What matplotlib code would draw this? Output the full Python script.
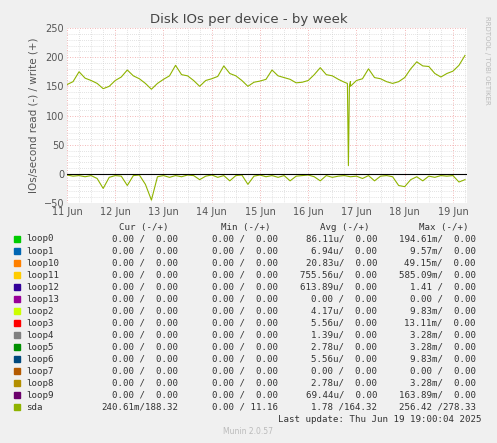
import numpy as np
import matplotlib.pyplot as plt
from matplotlib.ticker import MultipleLocator

# write IOs (+), sampled every 3 hours from 11 Jun 00:00
write_vals = [153, 158, 175, 164, 160, 155, 146, 150,
              160, 166, 178, 168, 163, 155, 145, 155,
              162, 168, 186, 170, 168, 160, 150, 160,
              163, 167, 185, 172, 168, 160, 150, 157,
              159, 162, 178, 168, 165, 162, 156, 157,
              160, 170, 182, 170, 168, 162, 157, 150,
              160, 163, 180, 165, 163, 158, 155, 158,
              165, 180, 192, 185, 184, 172, 166, 172,
              176, 186, 203]
# read IOs (-)
read_vals = [-2, -4, -3, -5, -3, -8, -25, -6,
             -3, -4, -20, -3, -2, -18, -45, -5,
             -3, -6, -3, -5, -2, -3, -10, -4,
             -2, -6, -3, -12, -3, -2, -18, -4,
             -2, -5, -3, -6, -3, -12, -4, -3,
             -2, -5, -12, -3, -6, -4, -3, -5,
             -4, -8, -3, -12, -4, -3, -5, -20,
             -22, -10, -5, -12, -4, -6, -3, -4,
             -3, -14, -10]
hours = np.arange(len(write_vals)) * 3.0
# short dip on 16 Jun evening
dip_hours = [5*24 + 19.5, 5*24 + 20, 5*24 + 20.5, 5*24 + 21]
dip_vals = [155, 14, 150, 158]
hours_w = np.concatenate([hours, dip_hours])
vals_w = np.concatenate([write_vals, dip_vals])
order = np.argsort(hours_w)
hours_w, vals_w = hours_w[order], vals_w[order]

day_labels = ['11 Jun', '12 Jun', '13 Jun', '14 Jun', '15 Jun',
              '16 Jun', '17 Jun', '18 Jun', '19 Jun']

names = ['loop0', 'loop1', 'loop10', 'loop11', 'loop12', 'loop13', 'loop2',
         'loop3', 'loop4', 'loop5', 'loop6', 'loop7', 'loop8', 'loop9', 'sda']
colors = ['#00CC00', '#0066B3', '#FF8000', '#FFCC00', '#330099', '#990099',
          '#CCFF00', '#FF0000', '#808080', '#008F00', '#00487D', '#B35A00',
          '#B38F00', '#6B006B', '#8FB300']
cur = ['0.00 /  0.00'] * 14 + ['240.61m/188.32']
mins = ['0.00 /  0.00'] * 14 + ['0.00 / 11.16']
avgs = ['86.11u/  0.00', '6.94u/  0.00', '20.83u/  0.00', '755.56u/  0.00',
        '613.89u/  0.00', '0.00 /  0.00', '4.17u/  0.00', '5.56u/  0.00',
        '1.39u/  0.00', '2.78u/  0.00', '5.56u/  0.00', '0.00 /  0.00',
        '2.78u/  0.00', '69.44u/  0.00', '1.78 /164.32']
maxs = ['194.61m/  0.00', '9.57m/  0.00', '49.15m/  0.00', '585.09m/  0.00',
        '1.41 /  0.00', '0.00 /  0.00', '9.83m/  0.00', '13.11m/  0.00',
        '3.28m/  0.00', '3.28m/  0.00', '9.83m/  0.00', '0.00 /  0.00',
        '3.28m/  0.00', '163.89m/  0.00', '256.42 /278.33']

W, H = 497, 443
fig = plt.figure(figsize=(W/100, H/100), dpi=100, facecolor='#F0F0F0')
ax = fig.add_axes([67/W, 1 - 203/H, 400/W, 175/H])
ax.set_facecolor('white')

xmax = 199.0
ax.plot(hours_w, vals_w, color='#8FB300', lw=0.8)
ax.plot(hours, read_vals, color='#8FB300', lw=0.8)
ax.axhline(0, color='black', lw=0.8)
ax.set_xlim(0, xmax)
ax.set_ylim(-50, 250)
ax.set_xticks(np.arange(len(day_labels)) * 24)
ax.set_xticklabels(day_labels)
ax.xaxis.set_minor_locator(MultipleLocator(6))
ax.yaxis.set_major_locator(MultipleLocator(50))
ax.yaxis.set_minor_locator(MultipleLocator(10))
ax.grid(which='minor', color='#C8C8C8', ls=(0, (1, 2)), lw=0.5)
ax.grid(which='major', color='#F0A0A0', ls=(0, (1, 2)), lw=0.6)
ax.tick_params(which='both', length=0, labelsize=7, colors='#555555', pad=2)
ax.tick_params(axis='x', pad=3)
for s in ax.spines.values():
    s.set_visible(False)
ax.set_ylabel('IOs/second read (-) / write (+)', fontsize=7.5, color='#555555')
fig.text(0.5, 1 - 19/H, 'Disk IOs per device - by week', ha='center', va='center',
         fontsize=9.5, color='#444444')
fig.text(487/W, 1 - 60/H, 'RRDTOOL / TOBI OETIKER', rotation=270, ha='center',
         va='center', fontsize=5, color='#BBBBBB')

mono = dict(family='DejaVu Sans Mono', fontsize=6.6, color='#333333')
y0 = 227
fig.text(144/W, 1 - y0/H, 'Cur (-/+)', ha='center', va='center', **mono)
fig.text(246/W, 1 - y0/H, 'Min (-/+)', ha='center', va='center', **mono)
fig.text(345/W, 1 - y0/H, 'Avg (-/+)', ha='center', va='center', **mono)
fig.text(444/W, 1 - y0/H, 'Max (-/+)', ha='center', va='center', **mono)
for i, n in enumerate(names):
    y = 1 - (239 + i*12) / H
    fig.patches.append(plt.Rectangle((14/W, y - 2.8/H), 6/W, 6/H,
                                     transform=fig.transFigure, color=colors[i]))
    fig.text(26/W, y, n, va='center', **mono)
    fig.text(178/W, y, cur[i], ha='right', va='center', **mono)
    fig.text(278/W, y, mins[i], ha='right', va='center', **mono)
    fig.text(377/W, y, avgs[i], ha='right', va='center', **mono)
    fig.text(476/W, y, maxs[i], ha='right', va='center', **mono)
fig.text(482/W, 1 - 419/H, 'Last update: Thu Jun 19 19:00:04 2025', ha='right',
         va='center', **mono)
fig.text(248/W, 1 - 432/H, 'Munin 2.0.57', ha='center', va='center',
         fontsize=5.5, color='#BBBBBB')

fig.savefig('out.png', dpi=100, facecolor=fig.get_facecolor())
